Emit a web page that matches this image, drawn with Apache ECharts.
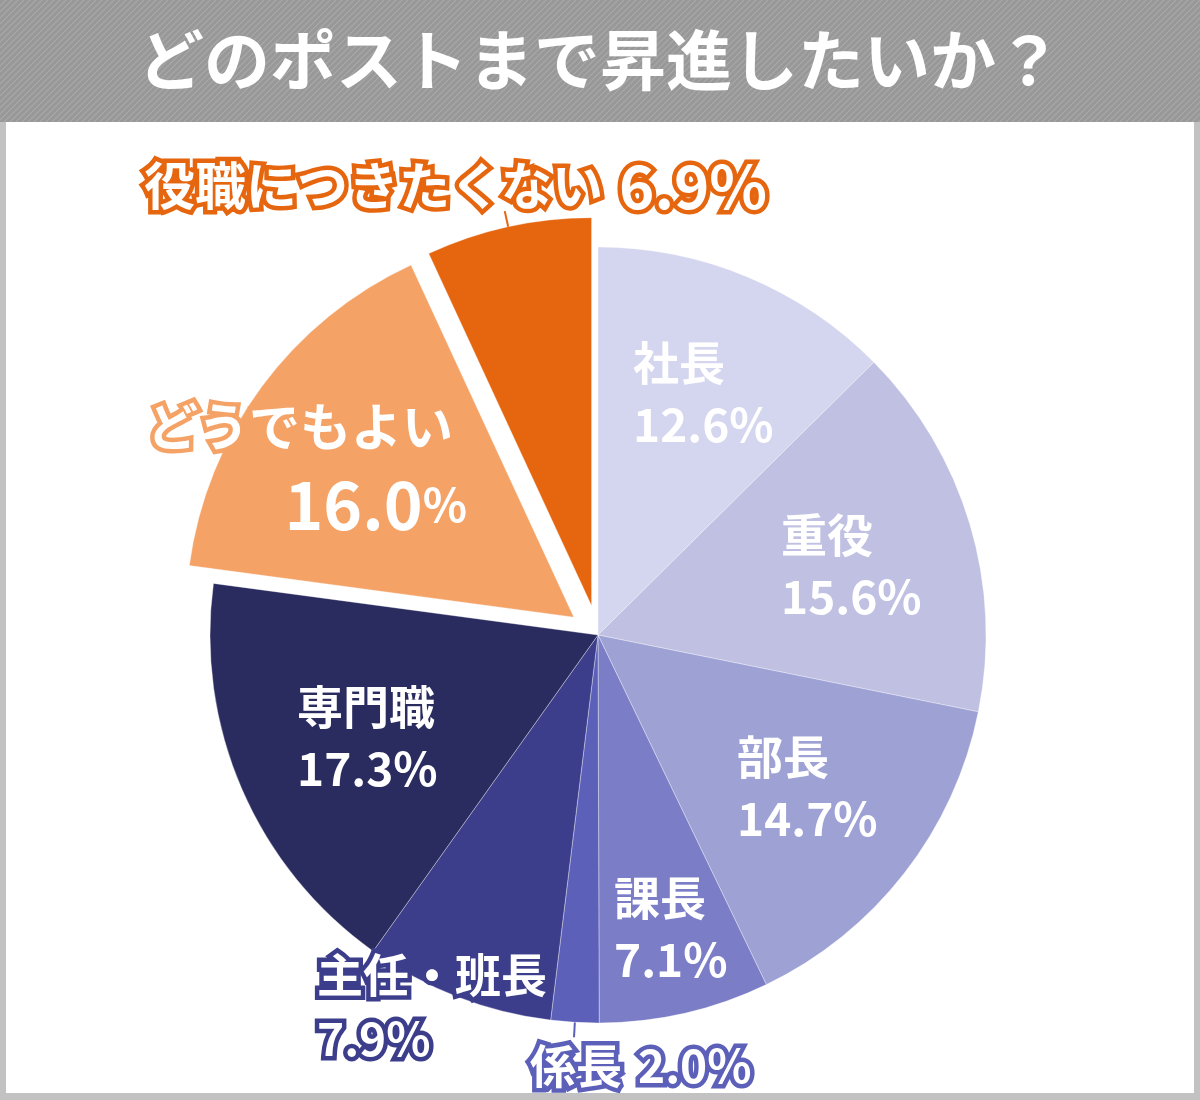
<!DOCTYPE html>
<html>
<head>
<meta charset="utf-8">
<script src="https://cdn.jsdelivr.net/npm/echarts@6/dist/echarts.min.js"></script>
<style>
  html, body { margin: 0; padding: 0; background: #fff; }
  #main { width: 1200px; height: 1100px; }
</style>
</head>
<body>
<div id="main"></div>
<script>
var titleText = 'どのポストまで昇進したいか？';
var categories = ['社長', '重役', '部長', '課長', '係長', '主任・班長', '専門職', 'どうでもよい', '役職につきたくない'];
var values = [12.6, 15.6, 14.7, 7.1, 2.0, 7.9, 17.3, 16.0, 6.9];
var explodedNames = ['どうでもよい', '役職につきたくない'];

var sliceColors = ['#d4d5ee', '#bfc0e2', '#9da1d4', '#7b7ec6', '#5d60b9', '#3c3e8c', '#2a2b5f', '#f5a266', '#e5660f'];
var FONT = '"Noto Sans CJK JP", "Noto Sans", sans-serif';

var PIE_CENTER = [598, 635];
var PIE_RADIUS = 388;
var EXPLODE = 30;

/* label anchor per slice: [x, y, align] */
var labelAnchors = [
  [633, 394, 'left'],
  [781, 566, 'left'],
  [737, 788, 'left'],
  [614, 929, 'left'],
  [530, 1066, 'left'],
  [317, 1007, 'left'],
  [297, 738, 'left'],
  [467, 466, 'right'],
  [144, 186, 'left']
];

/* diagonal stripe pattern for header */
function stripePattern() {
  var c = document.createElement('canvas');
  c.width = 6; c.height = 6;
  var ctx = c.getContext('2d');
  ctx.fillStyle = '#989898';
  ctx.fillRect(0, 0, 6, 6);
  ctx.strokeStyle = '#a9a9a9';
  ctx.lineWidth = 1.2;
  ctx.beginPath();
  ctx.moveTo(-1, 7); ctx.lineTo(7, -1);
  ctx.moveTo(-4, 4); ctx.lineTo(4, -4);
  ctx.moveTo(2, 10); ctx.lineTo(10, 2);
  ctx.stroke();
  return c;
}

function pct(v) {
  return v.toFixed(1) + '%';
}

function outlined(color, size, extra) {
  return Object.assign({
    color: '#fff',
    fontSize: size,
    fontWeight: 'bold',
    fontFamily: FONT,
    textBorderColor: color,
    textBorderWidth: 9,
    lineHeight: 64
  }, extra || {});
}

var insideLabel = {
  show: true,
  position: 'inside',
  color: '#fff',
  fontSize: 46,
  fontWeight: 'bold',
  fontFamily: FONT,
  lineHeight: 62,
  formatter: function (p) {
    return p.name + '\n' + pct(p.value);
  }
};

var hiddenLabel = { show: false };

function isExploded(name) {
  return explodedNames.indexOf(name) >= 0;
}

/* main slices: exploded ones get their labels from the overlay series */
function buildItem(name, i) {
  var item = {
    name: name,
    value: values[i],
    selected: isExploded(name),
    itemStyle: { color: sliceColors[i] },
    label: isExploded(name) ? hiddenLabel : insideLabel,
    labelLine: { show: false }
  };
  if (name === '主任・班長') {
    item.label = {
      show: true,
      position: 'outside',
      formatter: '{a|' + name + '}\n{a|' + pct(values[i]) + '}',
      rich: { a: outlined(sliceColors[i], 46) }
    };
  } else if (name === '係長') {
    item.label = {
      show: true,
      position: 'outside',
      formatter: '{a|' + name + '}{b|' + pct(values[i]) + '}',
      rich: {
        a: outlined(sliceColors[i], 46),
        b: outlined(sliceColors[i], 46, { padding: [0, 0, 0, 16] })
      }
    };
    item.labelLine = { show: true, length: 15, length2: 0, lineStyle: { color: sliceColors[i], width: 2 } };
  }
  return item;
}

/* transparent overlay: labels of the exploded slices */
function buildOverlayItem(name, i) {
  var item = {
    name: name,
    value: values[i],
    itemStyle: { color: 'rgba(0,0,0,0)', borderWidth: 0 },
    label: hiddenLabel,
    labelLine: { show: false }
  };
  if (name === 'どうでもよい') {
    item.label = {
      show: true,
      position: 'inside',
      formatter: '{a|' + name + '}\n{b|' + values[i].toFixed(1) + '}{c|%}',
      rich: {
        a: outlined(sliceColors[i], 51, { padding: [0, 14, 0, 0], lineHeight: 78 }),
        b: { color: '#fff', fontSize: 66, fontWeight: 'bold', fontFamily: FONT, lineHeight: 78 },
        c: { color: '#fff', fontSize: 46, fontWeight: 'bold', fontFamily: FONT, lineHeight: 78 }
      }
    };
  } else if (name === '役職につきたくない') {
    item.label = {
      show: true,
      position: 'outside',
      formatter: '{a|' + name + '}{b|' + pct(values[i]) + '}',
      rich: {
        a: outlined(sliceColors[i], 51),
        b: outlined(sliceColors[i], 60, { padding: [0, 0, 0, 16] })
      }
    };
    item.labelLine = { show: true, length: 16, length2: 0, lineStyle: { color: sliceColors[i], width: 2 } };
  }
  return item;
}

function placeLabel(params) {
  var a = labelAnchors[params.dataIndex];
  var res = { x: a[0], y: a[1], align: a[2], verticalAlign: 'middle' };
  var pts = params.labelLinePoints;
  if (pts && pts.length >= 2) {
    res.labelLinePoints = [pts[0], pts[1], pts[1]];
  }
  return res;
}

var chart = echarts.init(document.getElementById('main'));

var option = {
  animation: false,
  title: {
    text: titleText,
    left: 'center',
    top: 22,
    textStyle: {
      color: '#fff',
      fontSize: 66,
      fontWeight: 'bold',
      fontFamily: FONT
    }
  },
  graphic: [
    { type: 'rect', z: -10, shape: { x: 0, y: 0, width: 1200, height: 1100 }, style: { fill: '#c2c2c2' } },
    { type: 'rect', z: -9, shape: { x: 0, y: 0, width: 1200, height: 122 }, style: { fill: { image: stripePattern(), repeat: 'repeat' } } },
    { type: 'rect', z: -9, shape: { x: 6, y: 122, width: 1188, height: 971 }, style: { fill: '#ffffff' } }
  ],
  series: [{
    type: 'pie',
    center: PIE_CENTER,
    radius: PIE_RADIUS,
    startAngle: 90,
    clockwise: true,
    selectedMode: 'multiple',
    selectedOffset: EXPLODE,
    avoidLabelOverlap: false,
    emphasis: { disabled: true },
    itemStyle: { borderColor: 'rgba(255,255,255,0.35)', borderWidth: 1 },
    labelLayout: placeLabel,
    data: categories.map(buildItem)
  }, {
    type: 'pie',
    z: 3,
    silent: true,
    center: PIE_CENTER,
    radius: PIE_RADIUS + EXPLODE,
    startAngle: 90,
    clockwise: true,
    avoidLabelOverlap: false,
    emphasis: { disabled: true },
    labelLayout: placeLabel,
    data: categories.map(buildOverlayItem)
  }]
};

chart.setOption(option);
</script>
</body>
</html>
